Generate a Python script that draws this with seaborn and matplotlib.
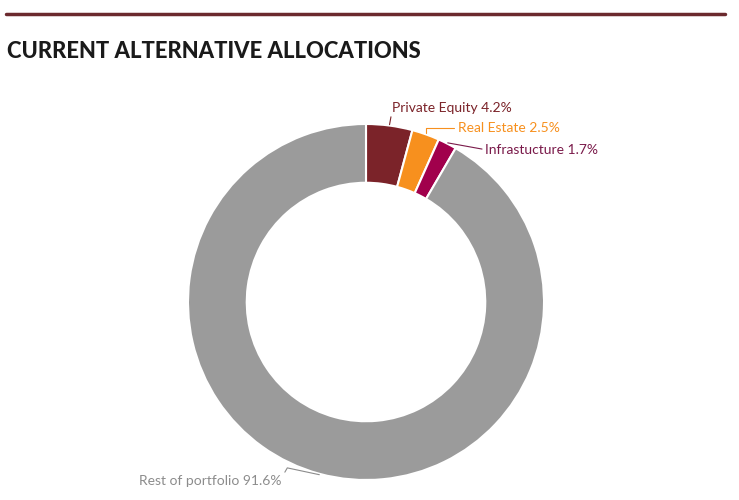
import numpy as np
import seaborn as sns
import matplotlib.pyplot as plt
from matplotlib.lines import Line2D

# data
categories = ["Private Equity", "Real Estate", "Infrastucture", "Rest of portfolio"]
shares = [4.2, 2.5, 1.7, 91.6]
colors = ["#7b2329", "#f7901e", "#a1004c", "#9b9b9b"]
label_colors = ["#7b2329", "#f7901e", "#7a1a4a", "#8c8c8c"]

sns.set_theme(style="white")
plt.rcParams["font.family"] = ["Lato", "DejaVu Sans"]

W, H = 739, 500
cx, cy, R = 366, 302, 178  # donut centre / radius in pixels

fig = plt.figure(figsize=(W / 100, H / 100), dpi=100)
ax = fig.add_axes([0, 0, 1, 1])

wedges, _ = ax.pie(
    shares,
    colors=colors,
    startangle=90,
    counterclock=False,
    radius=1.0,
    wedgeprops=dict(width=0.33, edgecolor="white", linewidth=1.5),
)
ax.set_aspect("auto")
ax.set_xlim(-cx / R, (W - cx) / R)
ax.set_ylim((cy - H) / R, cy / R)
ax.axis("off")


def px(x, y):
    return (x - cx) / R, (cy - y) / R


# label offsets (pixels) relative to wedge anchor, alignment, leader style
labels_cfg = [
    ((3, -18, "left"), (0, 0.4), "arc3,rad=0"),
    ((32, -6, "left"), (0, 0.5), "angle,angleA=0,angleB=90,rad=0"),
    ((38, 6, "left"), (0, 0.5), "arc3,rad=0"),
    ((-38, 7, "right"), (1, 0.75), "angle,angleA=60,angleB=168,rad=0"),
]

for w, cat, val, col, ((dx, dy, ha), rel, cs) in zip(wedges, categories, shares, label_colors, labels_cfg):
    mid = np.deg2rad((w.theta1 + w.theta2) / 2)
    ax_x, ax_y = np.cos(mid), np.sin(mid)
    apx = cx + ax_x * R
    apy = cy - ax_y * R
    ax.annotate(
        f"{cat} {val}%",
        xy=(ax_x * 1.005, ax_y * 1.005),
        xytext=px(apx + dx, apy + dy),
        ha=ha, va="center",
        fontsize=10, color=col,
        arrowprops=dict(arrowstyle="-", color=col, lw=0.8, relpos=rel,
                        shrinkA=0, shrinkB=0, connectionstyle=cs),
    )

# header rule and title
fig.add_artist(Line2D([6 / W, 725 / W], [1 - 14 / H, 1 - 14 / H],
                      color="#6b2a2e", lw=2.5, transform=fig.transFigure))
fig.text(7 / W, 1 - 52 / H, "CURRENT ALTERNATIVE ALLOCATIONS",
         fontsize=15.8, fontweight="black", color="#1a1a1a",
         ha="left", va="center")

fig.savefig("out.png", dpi=100)
